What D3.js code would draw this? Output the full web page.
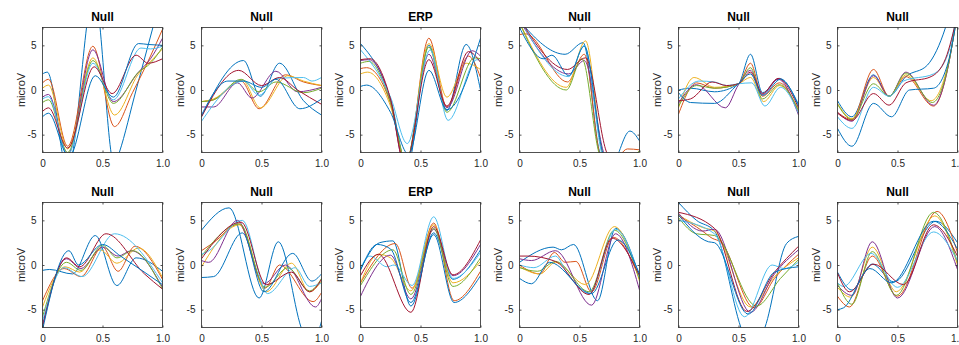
<!DOCTYPE html>
<html>
<head>
<meta charset="utf-8">
<script src="https://cdn.jsdelivr.net/npm/d3@7"></script>
<style>
  body { margin: 0; background: #fff; }
  text { font-family: "Liberation Sans", Arial, Helvetica, sans-serif; }
</style>
</head>
<body>
<svg id="chart" width="959" height="345"></svg>
<script>
// titoli dei pannelli, colori MATLAB e tick
const titles = ["Null", "Null", "ERP", "Null", "Null", "Null",
                "Null", "Null", "ERP", "Null", "Null", "Null"];
const colors = ["#0072BD", "#D95319", "#EDB120", "#7E2F8E", "#77AC30", "#4DBEEE", "#A2142F", "#0072BD"];
const xTicks = [0, 0.5, 1];
const yTicks = [-5, 0, 5];
const xDomain = [0, 1];
const yDomain = [-7, 7];
const yLabel = "microV";

// ogni pannello: 8 tracce nell'ordine dei colori, come nodi [tempo, microV]
const panel1 = [
  [[0,1.8],[0.04,2.0],[0.21,-9],[0.43,11],[0.6,-8.5],[0.64,-7],[0.78,0],[0.92,7],[1,11]],
  [[0,0.8],[0.05,1.2],[0.21,-6.3],[0.42,4.9],[0.6,-4.1],[0.75,-0.3],[0.9,3.8],[1,6.8]],
  [[0,0.2],[0.05,0.55],[0.21,-6.6],[0.42,3.6],[0.6,-2.8],[0.8,1.8],[0.9,3.2],[1,4.6]],
  [[0,-0.8],[0.05,-0.5],[0.21,-7.2],[0.42,4.5],[0.59,-1.3],[0.8,2.0],[0.9,3.5],[1,5.8]],
  [[0,-1.4],[0.05,-1.1],[0.21,-7.0],[0.42,3.3],[0.59,-1.5],[0.8,2.0],[0.9,3.0],[1,4.8]],
  [[0,-1.0],[0.05,-0.75],[0.21,-7.3],[0.42,3.0],[0.59,-1.1],[0.82,4.7],[0.9,4.6],[1,4.9]],
  [[0,-2.4],[0.05,-2.0],[0.21,-6.5],[0.43,2.6],[0.58,-0.4],[0.78,3.9],[0.88,3.0],[1,3.5]],
  [[0,-3.0],[0.05,-2.6],[0.22,-7.5],[0.44,1.6],[0.59,-0.8],[0.8,5.2],[0.88,5.1],[1,5.0]]
];
const panel2 = [
  [[0,-3.0],[0.35,3.3],[0.49,-0.7],[0.65,3.0],[0.85,-1.2],[1,-2.8]],
  [[0,-1.3],[0.1,-1.1],[0.33,1.0],[0.48,-2.1],[0.7,1.7],[0.85,0.9],[1,0.5]],
  [[0,-1.3],[0.1,-1.0],[0.34,1.1],[0.49,-2.0],[0.72,1.6],[0.85,1.0],[1,0.5]],
  [[0,-1.9],[0.1,-1.9],[0.3,0.8],[0.42,-0.9],[0.62,2.1],[0.8,-0.2],[1,0.3]],
  [[0,-1.3],[0.1,-1.1],[0.33,1.2],[0.48,-0.2],[0.62,0.9],[0.85,-0.3],[1,0.2]],
  [[0,-3.5],[0.35,1.0],[0.48,-0.6],[0.63,1.3],[0.85,1.4],[0.92,1.0],[1,1.4]],
  [[0,-3.0],[0.31,2.2],[0.5,0.5],[0.65,1.4],[0.8,0.0],[1,-1.6]],
  [[0,-2.8],[0.22,1.0],[0.35,1.0],[0.5,0.3],[0.62,1.2],[0.82,-2.1],[1,-1.0]]
];
const panel3 = [
  [[0,5.2],[0.25,-1.0],[0.39,-8.5],[0.57,5.0],[0.72,-2.3],[0.88,5.1],[1,0.0]],
  [[0,2.4],[0.05,2.5],[0.25,-1.5],[0.38,-8.5],[0.57,5.8],[0.72,-1.9],[0.9,3.8],[1,1.4]],
  [[0,1.8],[0.06,2.0],[0.25,-1.8],[0.38,-8],[0.57,5.2],[0.72,-0.8],[0.88,3.0],[1,2.3]],
  [[0,3.3],[0.07,3.4],[0.25,-1.2],[0.37,-8.5],[0.57,4.0],[0.72,-2.0],[0.93,4.4],[1,3.8]],
  [[0,3.0],[0.07,3.2],[0.25,-1.4],[0.38,-8],[0.57,4.8],[0.72,-2.5],[0.95,3.6],[1,3.5]],
  [[0,4.5],[0.25,-0.8],[0.39,-6.0],[0.58,4.5],[0.73,-3.4],[0.97,3.4],[1,3.3]],
  [[0,3.4],[0.08,3.5],[0.25,-1.0],[0.37,-8.5],[0.57,3.4],[0.72,-1.8],[0.9,4.3],[1,3.1]],
  [[0,0.4],[0.05,0.55],[0.25,-2.5],[0.4,-7.2],[0.57,2.2],[0.72,-2.2],[1,5.8]]
];
const panel4 = [
  [[0,7.8],[0.05,7.0],[0.38,4.0],[0.53,5.3],[0.67,-7],[0.76,-8.5],[0.92,-4.6],[1,-5.7]],
  [[0,6.2],[0.05,6.3],[0.4,0.9],[0.54,4.0],[0.68,-7.5],[0.78,-8],[0.9,-6.6],[1,-6.7]],
  [[0,7.6],[0.39,0.3],[0.55,5.5],[0.7,-7.5],[0.8,-9],[1,-9]],
  [[0,7.8],[0.41,1.8],[0.54,3.3],[0.72,-7.5],[1,-9]],
  [[0,7.5],[0.39,0.0],[0.52,3.5],[0.68,-7.5],[0.85,-8],[1,-6.8]],
  [[0,8],[0.41,1.5],[0.54,5.0],[0.7,-7.5],[1,-9]],
  [[0,8],[0.4,2.3],[0.55,3.6],[0.74,-7.3],[1,-9]],
  [[0,7.0],[0.2,3.5],[0.27,3.9],[0.41,1.6],[0.54,4.9],[0.71,-7.5],[1,-9]]
];
const panel5 = [
  [[0,0.0],[0.1,0.2],[0.3,-0.2],[0.5,0.7],[0.6,4.0],[0.7,-0.3],[0.84,1.3],[1,-1.6]],
  [[0,-2.7],[0.15,0.8],[0.3,0.2],[0.5,0.7],[0.6,3.0],[0.7,-0.7],[0.84,0.8],[1,-2.5]],
  [[0,-2.0],[0.13,1.4],[0.3,0.3],[0.5,0.7],[0.6,1.4],[0.71,-1.3],[0.84,0.5],[1,-2.2]],
  [[0,-1.5],[0.15,0.6],[0.39,-2.0],[0.5,0.6],[0.6,2.2],[0.7,-0.5],[0.83,1.2],[1,-2.8]],
  [[0,-1.8],[0.15,0.5],[0.3,0.2],[0.5,0.7],[0.6,2.5],[0.7,-1.0],[0.84,0.6],[1,-2.3]],
  [[0,-1.0],[0.17,1.0],[0.3,0.9],[0.4,0.5],[0.5,0.7],[0.61,0.8],[0.72,-1.8],[0.85,0.3],[1,-2.6]],
  [[0,-1.2],[0.1,-1.0],[0.28,0.9],[0.4,0.5],[0.5,0.7],[0.6,2.0],[0.7,-0.4],[0.83,1.3],[1,-2.0]],
  [[0,-0.3],[0.1,-1.4],[0.3,-1.5],[0.5,0.7],[0.6,1.8],[0.7,-0.6],[0.85,1.2],[1,-1.8]]
];
const panel6 = [
  [[0,-1.2],[0.12,-3.0],[0.3,1.7],[0.43,-0.7],[0.57,1.5],[0.75,2.8],[0.9,7],[1,12]],
  [[0,-2.5],[0.12,-3.3],[0.3,2.3],[0.43,-0.7],[0.57,1.5],[0.8,-1.8],[0.92,2.5],[1,9]],
  [[0,-1.5],[0.12,-3.2],[0.3,1.4],[0.43,-0.7],[0.57,1.7],[0.78,-1.2],[0.92,2.8],[1,8.5]],
  [[0,-2.5],[0.12,-3.5],[0.3,1.6],[0.43,-0.7],[0.57,2.0],[0.8,-1.7],[0.92,2.5],[1,9]],
  [[0,-1.6],[0.12,-3.3],[0.3,0.7],[0.43,-0.7],[0.57,1.9],[0.79,-1.4],[0.92,2.6],[1,8.8]],
  [[0,-3.0],[0.12,-4.3],[0.3,0.3],[0.43,-0.7],[0.55,1.0],[0.8,1.8],[0.92,4],[1,9]],
  [[0,-2.6],[0.12,-3.4],[0.3,-0.4],[0.43,-1.7],[0.57,0.8],[0.78,1.5],[0.9,3.5],[1,8.5]],
  [[0,-4.3],[0.12,-6.3],[0.3,-1.5],[0.45,-3.0],[0.6,0.0],[0.8,0.2],[0.92,3],[1,8.5]]
];
const panel7 = [
  [[0,-0.6],[0.06,-0.5],[0.25,-1.0],[0.44,3.3],[0.62,-2.3],[0.78,0.8],[1,-0.7]],
  [[0,-4.0],[0.18,-0.4],[0.32,-1.3],[0.5,2.0],[0.63,-0.7],[0.77,2.1],[1,-1.6]],
  [[0,-4.7],[0.19,-0.2],[0.31,-0.8],[0.48,1.7],[0.62,0.2],[0.8,1.9],[1,-1.4]],
  [[0,-6.7],[0.2,0.7],[0.32,-0.4],[0.5,2.0],[0.63,1.0],[0.74,1.6],[1,-2.5]],
  [[0,-5.8],[0.2,0.3],[0.32,-0.6],[0.5,2.2],[0.62,0.8],[0.75,1.6],[1,-2.7]],
  [[0,-6.3],[0.18,-0.3],[0.33,-1.3],[0.6,3.5],[1,-2.0]],
  [[0,-7.0],[0.2,0.8],[0.31,-0.2],[0.53,3.5],[0.85,-1.0],[1,-2.7]],
  [[0,-7.3],[0.22,1.6],[0.3,0.0],[0.5,2.3],[0.65,1.0],[1,-2.2]]
];
const panel8 = [
  [[0,3.9],[0.23,6.4],[0.48,-3.7],[0.64,2.6],[0.83,-7],[0.9,-9.5],[1,-6.3]],
  [[0,1.6],[0.1,2.5],[0.31,4.6],[0.53,-2.6],[0.65,0.0],[0.93,-4.1],[1,-3.1]],
  [[0,-0.2],[0.32,4.5],[0.54,-3.0],[0.75,0.2],[0.9,-3.0],[1,-1.8]],
  [[0,0.5],[0.06,0.3],[0.3,5.0],[0.52,-2.1],[0.7,0.0],[0.95,-4.7],[1,-3.8]],
  [[0,1.0],[0.32,4.6],[0.53,-2.5],[0.72,-0.3],[0.9,-2.9],[1,-1.5]],
  [[0,1.2],[0.05,1.5],[0.34,5.0],[0.55,-3.2],[0.78,-0.3],[0.9,-2.4],[1,-2.0]],
  [[0,0.7],[0.33,4.8],[0.54,-2.2],[0.75,-0.8],[0.9,-3.0],[1,-1.6]],
  [[0,-1.4],[0.1,-1.3],[0.34,3.6],[0.52,-3.0],[0.76,1.3],[0.92,-1.8],[1,-1.0]]
];
const panel9 = [
  [[0,-0.5],[0.16,2.5],[0.27,2.7],[0.42,-4.6],[0.61,3.6],[0.77,-1.6],[1,1.7]],
  [[0,-2.0],[0.29,2.4],[0.43,-2.6],[0.61,4.7],[0.78,-4.0],[1,-0.7]],
  [[0,-2.0],[0.15,1.2],[0.25,0.8],[0.42,-2.9],[0.61,4.5],[0.77,-2.0],[1,0.4]],
  [[0,-3.5],[0.25,1.1],[0.42,-3.8],[0.61,4.0],[0.77,-1.2],[1,2.3]],
  [[0,-2.3],[0.27,1.7],[0.42,-3.3],[0.61,4.1],[0.77,-2.4],[1,0.8]],
  [[0,-0.3],[0.08,1.0],[0.22,-0.2],[0.28,0.0],[0.43,-2.3],[0.61,5.4],[0.77,-1.5],[1,1.4]],
  [[0,-1.2],[0.15,1.2],[0.42,-5.3],[0.61,4.3],[0.77,-1.1],[1,2.8]],
  [[0,-0.6],[0.14,2.3],[0.25,1.8],[0.42,-4.2],[0.61,3.4],[0.78,-4.2],[1,-1.2]]
];
const panel10 = [
  [[0,0.3],[0.28,2.0],[0.35,1.7],[0.45,2.3],[0.65,-4.0],[0.8,4.1],[1,-1.3]],
  [[0,0.0],[0.17,-1.0],[0.29,1.4],[0.38,0.3],[0.47,0.4],[0.6,-3.0],[0.78,3.1],[1,-1.5]],
  [[0,-0.2],[0.17,-1.0],[0.3,0.3],[0.55,-2.2],[0.79,4.3],[1,-1.8]],
  [[0,0.7],[0.1,0.5],[0.3,1.6],[0.6,-4.5],[0.8,3.5],[1,-2.8]],
  [[0,-0.3],[0.15,-0.7],[0.3,0.4],[0.58,-3.0],[0.79,3.9],[1,-1.6]],
  [[0,0.0],[0.12,-0.3],[0.3,1.0],[0.4,-1.0],[0.58,-3.2],[0.8,4.0],[1,-1.4]],
  [[0,1.0],[0.07,1.0],[0.3,0.4],[0.58,-3.3],[0.77,3.0],[1,-1.2]],
  [[0,-1.5],[0.1,-2.1],[0.25,0.3],[0.6,-3.2],[0.82,2.8],[1,-1.0]]
];
const panel11 = [
  [[0,7.0],[0.15,5.0],[0.3,3.8],[0.52,-7],[0.61,-10],[0.72,-7],[0.9,2.4],[1,3.2]],
  [[0,5.5],[0.2,3.8],[0.28,3.0],[0.35,2.6],[0.63,-4.8],[0.8,-1.5],[1,1.2]],
  [[0,5.6],[0.2,4.2],[0.3,3.8],[0.6,-4.7],[0.8,-1.3],[1,0.8]],
  [[0,5.8],[0.2,3.8],[0.3,4.0],[0.6,-5.3],[0.8,-1.0],[1,1.7]],
  [[0,5.3],[0.15,3.5],[0.3,3.3],[0.65,-4.6],[0.85,-1.5],[1,0.6]],
  [[0,5.0],[0.3,3.5],[0.55,-5.8],[0.78,0.0],[0.88,-0.4],[1,0.3]],
  [[0,5.9],[0.3,4.1],[0.57,-5.2],[0.8,-0.8],[1,2.1]],
  [[0,5.6],[0.25,2.6],[0.3,2.5],[0.58,-5.5],[0.8,-0.8],[1,-0.2]]
];
const panel12 = [
  [[0,-0.8],[0.12,-2.8],[0.29,0.1],[0.47,-1.9],[0.82,4.9],[1,2.5]],
  [[0,-3.5],[0.1,-4.7],[0.29,1.0],[0.5,-3.5],[0.83,6.0],[1,1.4]],
  [[0,-2.5],[0.11,-3.6],[0.29,2.0],[0.49,-3.0],[0.81,5.5],[1,0.0]],
  [[0,-2.3],[0.12,-3.4],[0.29,2.6],[0.5,-3.7],[0.81,4.3],[1,-0.5]],
  [[0,-2.0],[0.12,-4.4],[0.29,1.5],[0.49,-3.4],[0.8,5.9],[1,0.3]],
  [[0,-2.0],[0.05,-2.4],[0.28,1.3],[0.5,-2.5],[0.8,3.7],[1,0.5]],
  [[0,-0.9],[0.1,-3.0],[0.3,0.1],[0.55,-2.2],[0.8,4.5],[1,1.0]],
  [[0,-5.0],[0.05,-4.8],[0.27,-0.4],[0.45,-2.0],[0.8,4.9],[1,1.8]]
];
const panels = [panel1, panel2, panel3, panel4, panel5, panel6,
                panel7, panel8, panel9, panel10, panel11, panel12];

// geometria della griglia 2x6
const colLeft = [42.5, 201.5, 360.5, 519.5, 678.5, 837.5];
const rowTop = [27.5, 202.5];
const W = 120, H = 125;
const axisColor = "#262626";

const svg = d3.select("#chart");

const x = d3.scaleLinear().domain(xDomain).range([0, W]);
const y = d3.scaleLinear().domain(yDomain).range([H, 0]);

const line = d3.line()
    .x(d => x(d[0]))
    .y(d => y(d[1]))
    .curve(d3.curveMonotoneX);

const fmtX = d => d === 0 ? "0" : d.toFixed(1);
const fmtY = d => String(d);

panels.forEach((traces, i) => {
    const col = i % 6, row = Math.floor(i / 6);
    const g = svg.append("g")
        .attr("transform", `translate(${colLeft[col]},${rowTop[row]})`);

    g.append("clipPath").attr("id", "clip" + i)
        .append("rect").attr("width", W).attr("height", H);

    g.append("g").attr("clip-path", `url(#clip${i})`)
        .selectAll("path")
        .data(traces)
        .enter().append("path")
        .attr("d", line)
        .attr("fill", "none")
        .attr("stroke", (d, k) => colors[k])
        .attr("stroke-width", 1);

    // assi in stile MATLAB: tick interni su tutti i lati
    const bottom = g.append("g").attr("transform", `translate(0,${H})`)
        .call(d3.axisBottom(x).tickValues(xTicks).tickFormat(fmtX).tickSize(-2).tickPadding(7));
    const left = g.append("g")
        .call(d3.axisLeft(y).tickValues(yTicks).tickFormat(fmtY).tickSize(-2).tickPadding(6));
    const top = g.append("g")
        .call(d3.axisTop(x).tickValues(xTicks).tickFormat("").tickSize(-2));
    const right = g.append("g").attr("transform", `translate(${W},0)`)
        .call(d3.axisRight(y).tickValues(yTicks).tickFormat("").tickSize(-2));

    [bottom, left, top, right].forEach(a => {
        a.select(".domain").remove();
        a.selectAll("line").attr("stroke", axisColor).attr("stroke-width", 0.8);
        a.selectAll("text").attr("fill", axisColor).style("font-size", "10px")
            .style("font-family", '"Liberation Sans", Arial, sans-serif');
    });

    g.append("rect")
        .attr("width", W).attr("height", H)
        .attr("fill", "none")
        .attr("stroke", axisColor)
        .attr("stroke-width", 0.8);

    g.append("text")
        .attr("x", W / 2).attr("y", -6.5)
        .attr("text-anchor", "middle")
        .style("font-size", "12px")
        .style("font-weight", "bold")
        .attr("fill", "#000")
        .text(titles[i]);

    g.append("text")
        .attr("transform", `translate(-18,${H / 2}) rotate(-90)`)
        .attr("text-anchor", "middle")
        .style("font-size", "11px")
        .attr("fill", axisColor)
        .text(yLabel);
});
</script>
</body>
</html>
